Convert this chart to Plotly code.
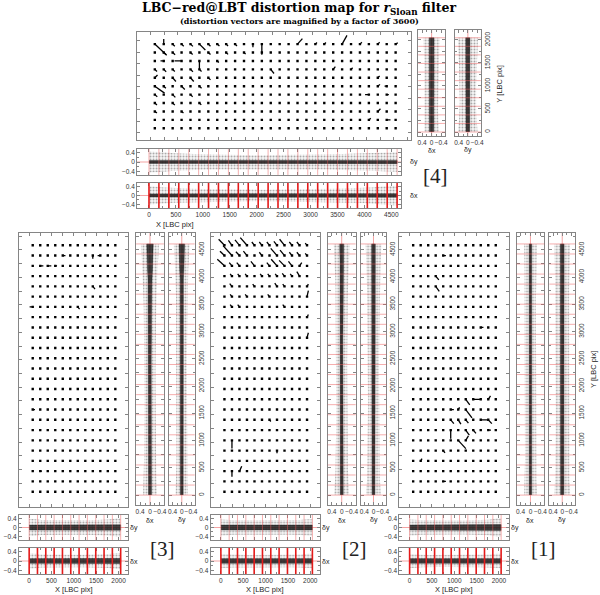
import plotly.graph_objects as go

# ---------------- data ----------------
# vector grid positions (LBC pixels)
GRID4_X = [80, 245, 410, 575, 740, 905, 1070, 1235, 1400, 1565, 1730, 1895, 2060, 2225,
           2390, 2555, 2720, 2885, 3050, 3215, 3380, 3545, 3710, 3875, 4040, 4205, 4370, 4535]
GRID4_Y = [100, 283, 466, 649, 832, 1015, 1198, 1381, 1564, 1747, 1930]
GRID_X = [80, 248, 416, 584, 752, 920, 1088, 1256, 1424, 1592, 1760, 1928]
GRID_Y = [97, 284, 471, 658, 845, 1032, 1219, 1406, 1593, 1780, 1967, 2154, 2341,
          2528, 2715, 2902, 3089, 3276, 3463, 3650, 3837, 4024, 4211, 4398, 4585]

# bin edges of the residual profiles
EDGES_LONG = [0, 184, 369, 553, 737, 922, 1106, 1290, 1475, 1659, 1843, 2028, 2212,
              2396, 2580, 2765, 2949, 3133, 3318, 3502, 3686, 3871, 4055, 4239, 4424, 4608]
EDGES_SHORT = [0, 186, 372, 559, 745, 931, 1117, 1303, 1490, 1676, 1862, 2048]

# magnified distortion vectors: (column, row, dX, dY)
VEC4 = [(0, 10, 220, -240), (1, 10, 0, 110), (2, 10, 40, -45), (3, 10, 40, -45), (4, 10, 45, -50),
        (5, 10, 110, -130), (6, 10, 40, -45), (7, 10, 40, -40), (8, 10, 35, -40), (9, 10, 35, -40),
        (11, 10, 0, -70), (12, 10, 0, -180), (16, 10, 90, 120), (18, 10, 30, 35), (19, 10, 30, 35),
        (21, 10, 90, 190), (23, 10, 35, 40), (25, 10, 35, 40), (27, 10, 40, 30),
        (1, 9, 40, -45), (2, 9, 45, -50), (4, 9, 40, -45), (6, 9, 40, -45), (8, 9, 35, -40),
        (10, 9, 30, -35), (12, 9, 0, -50),
        (1, 8, -60, 0), (3, 8, -130, 0), (5, 8, 0, -190), (7, 8, 30, -35),
        (0, 7, 40, -45), (1, 7, 45, -50), (2, 7, 40, -45), (4, 7, 45, -50), (5, 7, 40, -45),
        (13, 7, 60, -90), (20, 7, 40, 60), (22, 7, 30, 35),
        (0, 6, 50, 60), (2, 6, 60, -80), (4, 6, 60, -80), (6, 6, 40, -45), (25, 6, 35, 40),
        (0, 5, 180, -150), (1, 5, 40, -45), (3, 5, 60, -70), (5, 5, 40, -45), (25, 5, 40, 40),
        (26, 5, -40, 0), (0, 4, 45, -45), (2, 4, 50, -60), (4, 4, 40, -45), (24, 4, -70, 0),
        (26, 4, 40, 0), (0, 3, 40, -40), (2, 3, 40, -45), (5, 3, 35, -40),
        (0, 2, 40, -30), (3, 2, 35, -35), (25, 2, 50, 60), (26, 1, 70, 0), (24, 1, 35, 35)]
VEC3 = [(4, 23, 60, 0), (9, 23, -60, 0), (8, 23, 0, -60), (1, 22, 70, 0), (2, 22, 80, 0),
        (3, 22, 40, 0), (8, 20, 50, -50), (0, 18, -70, 0), (6, 18, 40, -40), (0, 8, 50, 0),
        (1, 2, 40, 0)]
VEC2 = [(0, 24, -130, 110), (1, 24, -80, 90), (2, 24, -100, 100), (3, 24, -150, 140),
        (4, 24, -60, 60), (5, 24, -60, 60), (6, 24, -60, 60), (7, 24, -70, 70), (8, 24, -110, 110),
        (9, 24, -60, 60), (10, 24, -60, 60), (11, 24, -40, 40),
        (0, 23, -100, 80), (1, 23, -200, 180), (2, 23, -80, 70), (3, 23, -80, 80), (5, 23, -60, 60),
        (7, 23, -140, 130), (8, 23, -100, 100), (9, 23, -60, 60), (10, 23, -60, 60), (11, 23, -40, 40),
        (0, 22, -160, 120), (1, 22, -60, 60), (2, 22, -60, 60), (4, 22, -80, 80), (6, 22, -60, 60),
        (7, 22, -130, 120), (8, 22, -120, 100), (9, 22, -80, 80), (10, 22, 50, 60),
        (1, 21, -40, 40), (2, 21, -40, 40), (3, 21, -40, 40), (5, 21, -40, 40), (6, 21, -40, 40),
        (7, 21, -40, 40), (8, 21, -50, 50), (9, 21, -40, 40), (10, 21, -60, 80),
        (1, 20, -50, 50), (4, 20, -40, 40), (7, 20, -50, 60), (8, 20, -40, 40), (11, 20, 30, 40),
        (1, 19, -40, 40), (3, 19, -40, 40), (6, 19, -40, 40), (11, 19, 30, 110),
        (1, 18, -40, 40), (2, 18, -40, 40), (8, 18, -40, 40), (11, 17, 30, 50), (11, 15, 30, 90),
        (1, 5, 0, -150), (1, 2, 0, -100), (2, 2, 50, 90), (7, 4, 0, -50), (6, 7, 30, -30)]
VEC1 = [(3, 21, 70, -70), (3, 20, 80, -90), (4, 23, 60, 0), (9, 16, 60, 0),
        (7, 9, 90, -100), (8, 9, 150, 0), (10, 9, 50, 60),
        (5, 8, 70, 0), (6, 8, 30, 40), (7, 8, 140, -150),
        (5, 7, 70, -70), (6, 7, 60, -80), (7, 7, 60, -60), (9, 7, 150, 0), (10, 7, 80, -70),
        (5, 6, 0, -160), (7, 6, 80, -90), (8, 6, 60, -60), (10, 6, 60, 0),
        (6, 5, 170, -150), (7, 5, 60, 80), (4, 4, 40, -40), (1, 3, 30, 40), (4, 1, 60, 0),
        (7, 17, 40, 0)]

# residual spread per bin (arcsec): outer envelope and dense core
C4_DX_Y_OUT = [0.30, 0.28, 0.27, 0.27, 0.28, 0.28, 0.29, 0.30, 0.31, 0.32, 0.34]
C4_DX_Y_CORE = [0.09, 0.08, 0.08, 0.08, 0.08, 0.08, 0.08, 0.09, 0.09, 0.09, 0.10]
C4_DY_Y_OUT = [0.42, 0.38, 0.36, 0.35, 0.36, 0.36, 0.37, 0.38, 0.40, 0.42, 0.44]
C4_DY_Y_CORE = [0.08, 0.07, 0.07, 0.07, 0.07, 0.07, 0.07, 0.07, 0.08, 0.08, 0.09]
C4_DY_X_OUT = [0.45, 0.42, 0.38, 0.35, 0.34, 0.33, 0.32, 0.31, 0.30, 0.30, 0.29, 0.29, 0.30,
               0.30, 0.31, 0.31, 0.32, 0.32, 0.33, 0.34, 0.35, 0.36, 0.38, 0.40, 0.42]
C4_DY_X_CORE = [0.06, 0.06, 0.05, 0.05, 0.05, 0.05, 0.04, 0.04, 0.04, 0.04, 0.04, 0.04, 0.04,
                0.04, 0.04, 0.05, 0.05, 0.05, 0.05, 0.05, 0.06, 0.06, 0.06, 0.07, 0.07]
C4_DX_X_OUT = [0.40, 0.36, 0.33, 0.30, 0.30, 0.29, 0.28, 0.28, 0.27, 0.27, 0.26, 0.26, 0.27,
               0.27, 0.28, 0.28, 0.29, 0.30, 0.30, 0.31, 0.32, 0.34, 0.36, 0.40, 0.44]
C4_DX_X_CORE = [0.07, 0.07, 0.06, 0.06, 0.05, 0.05, 0.05, 0.05, 0.05, 0.05, 0.05, 0.05, 0.05,
                0.05, 0.05, 0.05, 0.05, 0.06, 0.06, 0.06, 0.06, 0.07, 0.07, 0.08, 0.08]

C3_DX_Y_OUT = [0.28, 0.26, 0.25, 0.24, 0.23, 0.23, 0.22, 0.22, 0.22, 0.22, 0.22, 0.22, 0.22,
               0.22, 0.23, 0.23, 0.24, 0.24, 0.25, 0.26, 0.27, 0.28, 0.30, 0.33, 0.36]
C3_DX_Y_CORE = [0.06, 0.06, 0.05, 0.05, 0.05, 0.05, 0.05, 0.05, 0.05, 0.05, 0.05, 0.05, 0.05,
                0.05, 0.05, 0.05, 0.06, 0.06, 0.06, 0.07, 0.07, 0.08, 0.10, 0.12, 0.13]
C3_DY_Y_OUT = [0.27, 0.25, 0.24, 0.23, 0.23, 0.22, 0.22, 0.22, 0.22, 0.22, 0.22, 0.22, 0.22,
               0.22, 0.22, 0.23, 0.23, 0.24, 0.24, 0.25, 0.26, 0.27, 0.28, 0.31, 0.34]
C3_DY_Y_CORE = [0.06, 0.05, 0.05, 0.05, 0.05, 0.05, 0.05, 0.05, 0.05, 0.05, 0.05, 0.05, 0.05,
                0.05, 0.05, 0.05, 0.05, 0.06, 0.06, 0.06, 0.07, 0.07, 0.09, 0.11, 0.12]
C3_DY_X_OUT = [0.38, 0.34, 0.33, 0.32, 0.32, 0.32, 0.32, 0.33, 0.34, 0.36, 0.40]
C3_DY_X_CORE = [0.11, 0.10, 0.10, 0.10, 0.10, 0.10, 0.10, 0.10, 0.10, 0.11, 0.12]
C3_DX_X_OUT = [0.32, 0.28, 0.27, 0.27, 0.27, 0.27, 0.27, 0.28, 0.28, 0.30, 0.34]
C3_DX_X_CORE = [0.10, 0.09, 0.09, 0.09, 0.09, 0.09, 0.09, 0.09, 0.09, 0.10, 0.11]

C2_DX_Y_OUT = [0.30, 0.27, 0.25, 0.24, 0.23, 0.23, 0.22, 0.22, 0.22, 0.22, 0.22, 0.22, 0.22,
               0.22, 0.22, 0.23, 0.23, 0.23, 0.24, 0.24, 0.25, 0.26, 0.28, 0.30, 0.32]
C2_DX_Y_CORE = [0.06, 0.05, 0.05, 0.05, 0.05, 0.05, 0.045, 0.045, 0.045, 0.045, 0.045, 0.045,
                0.045, 0.045, 0.045, 0.045, 0.05, 0.05, 0.05, 0.05, 0.05, 0.06, 0.06, 0.07, 0.08]
C2_DY_Y_OUT = [0.32, 0.28, 0.27, 0.26, 0.25, 0.25, 0.25, 0.24, 0.24, 0.24, 0.24, 0.24, 0.24,
               0.24, 0.25, 0.25, 0.25, 0.26, 0.26, 0.27, 0.28, 0.29, 0.30, 0.32, 0.34]
C2_DY_Y_CORE = [0.06, 0.06, 0.05, 0.05, 0.05, 0.05, 0.05, 0.05, 0.05, 0.05, 0.05, 0.05, 0.05,
                0.05, 0.05, 0.05, 0.05, 0.05, 0.05, 0.06, 0.06, 0.06, 0.07, 0.07, 0.08]
C2_DY_X_OUT = [0.36, 0.33, 0.32, 0.32, 0.31, 0.31, 0.31, 0.32, 0.32, 0.34, 0.37]
C2_DY_X_CORE = [0.11, 0.10, 0.10, 0.10, 0.10, 0.10, 0.10, 0.10, 0.10, 0.10, 0.11]
C2_DX_X_OUT = [0.30, 0.28, 0.27, 0.26, 0.26, 0.26, 0.26, 0.27, 0.27, 0.28, 0.31]
C2_DX_X_CORE = [0.10, 0.09, 0.09, 0.09, 0.09, 0.09, 0.09, 0.09, 0.09, 0.09, 0.10]

C1_DX_Y_OUT = [0.26, 0.24, 0.23, 0.22, 0.22, 0.21, 0.21, 0.21, 0.21, 0.21, 0.21, 0.21, 0.21,
               0.21, 0.21, 0.21, 0.22, 0.22, 0.22, 0.22, 0.23, 0.23, 0.24, 0.25, 0.26]
C1_DX_Y_CORE = [0.05, 0.05, 0.045, 0.045, 0.06, 0.045, 0.045, 0.045, 0.045, 0.045, 0.045, 0.045,
                0.045, 0.045, 0.045, 0.045, 0.045, 0.045, 0.045, 0.045, 0.045, 0.045, 0.05, 0.05, 0.05]
C1_DY_Y_OUT = [0.34, 0.31, 0.30, 0.29, 0.30, 0.28, 0.28, 0.28, 0.28, 0.28, 0.28, 0.28, 0.28,
               0.28, 0.28, 0.28, 0.29, 0.29, 0.29, 0.30, 0.30, 0.31, 0.32, 0.33, 0.34]
C1_DY_Y_CORE = [0.07, 0.06, 0.06, 0.06, 0.09, 0.06, 0.06, 0.06, 0.06, 0.06, 0.06, 0.06, 0.06,
                0.06, 0.06, 0.06, 0.06, 0.06, 0.06, 0.06, 0.06, 0.07, 0.07, 0.07, 0.08]
C1_DY_X_OUT = [0.36, 0.33, 0.32, 0.31, 0.31, 0.31, 0.31, 0.32, 0.33, 0.35, 0.40]
C1_DY_X_CORE = [0.11, 0.10, 0.10, 0.10, 0.10, 0.10, 0.10, 0.10, 0.11, 0.12, 0.13]
C1_DX_X_OUT = [0.30, 0.27, 0.26, 0.26, 0.26, 0.26, 0.26, 0.26, 0.27, 0.28, 0.31]
C1_DX_X_CORE = [0.10, 0.09, 0.09, 0.09, 0.09, 0.09, 0.09, 0.09, 0.09, 0.09, 0.10]

# tick labels
TOP_Y_TICKS = [0, 500, 1000, 1500, 2000]
TOP_X_TICKS = [0, 500, 1000, 1500, 2000, 2500, 3000, 3500, 4000, 4500]
BOT_Y_TICKS = [0, 500, 1000, 1500, 2000, 2500, 3000, 3500, 4000, 4500]
BOT_X_TICKS = [0, 500, 1000, 1500, 2000]
RES_TICKS = [0.4, 0, -0.4]
RES_TEXT = ['0.4', '0', '\u22120.4']
RES_MINOR = [0.2, -0.2]

# ---------------- figure ----------------
W, H = 600, 595
FRAME = '#858585'
RED_THIN = 'rgba(235,90,90,0.7)'
RED_THICK = '#e41a1a'
TICKFONT = dict(family='Liberation Sans', size=6.5, color='#333333')
RES_RANGE = 0.56

fig = go.Figure()
n_axes = [0]


def new_axes(box, xr, yr, xkw=None, ykw=None):
    n_axes[0] += 1
    s = '' if n_axes[0] == 1 else str(n_axes[0])
    x0, x1, y0, y1 = box
    base = dict(showgrid=False, zeroline=False, showline=True, linecolor=FRAME, linewidth=1,
                mirror='ticks', ticks='inside', ticklen=3, tickcolor=FRAME, tickwidth=0.7,
                showticklabels=False, tickfont=TICKFONT, tickangle=0, fixedrange=True)
    xa = dict(base, domain=[x0 / W, x1 / W], range=xr, anchor='y' + s)
    ya = dict(base, domain=[1 - y1 / H, 1 - y0 / H], range=yr, anchor='x' + s)
    if xkw:
        xa.update(xkw)
    if ykw:
        ya.update(ykw)
    fig.update_layout({'xaxis' + s: xa, 'yaxis' + s: ya})
    return 'x' + s, 'y' + s


def minor(vals=None, dtick=None):
    m = dict(ticks='inside', ticklen=2, tickcolor=FRAME)
    if vals is not None:
        m['tickvals'] = vals
    if dtick is not None:
        m['dtick'] = dtick
    return m


def vector_panel(box, xr, yr, gx, gy, vecs):
    xa, ya = new_axes(box, xr, yr, dict(dtick=250, tick0=0), dict(dtick=250, tick0=0))
    dots_x = [x for y in gy for x in gx]
    dots_y = [y for y in gy for x in gx]
    fig.add_trace(go.Scatter(x=dots_x, y=dots_y, mode='markers', xaxis=xa, yaxis=ya,
                             marker=dict(symbol='square', size=2.4, color='black', line_width=0),
                             hoverinfo='skip'))
    lx, ly = [], []
    for c, r, dx, dy in vecs:
        lx += [gx[c], gx[c] + dx, None]
        ly += [gy[r], gy[r] + dy, None]
    fig.add_trace(go.Scatter(x=lx, y=ly, mode='lines', xaxis=xa, yaxis=ya,
                             line=dict(color='black', width=1.3), hoverinfo='skip'))


def envelope(edges, spread):
    centers = [(a + b) / 2 for a, b in zip(edges[:-1], edges[1:])]
    pos = [edges[0]] + centers + [edges[-1]]
    s = [spread[0]] + list(spread) + [spread[-1]]
    return pos + pos[::-1], s + [-v for v in s[::-1]]


def add_cloud(xa, ya, edges, outer, core, vertical):
    for spread, kind in ((outer, 'outer'), (core, 'core')):
        p, r = envelope(edges, spread)
        x, y = (r, p) if vertical else (p, r)
        if kind == 'outer':
            fig.add_trace(go.Scatter(x=x, y=y, mode='lines', fill='toself', xaxis=xa, yaxis=ya,
                                     line=dict(width=0), fillcolor='rgba(0,0,0,0.04)',
                                     fillpattern=dict(shape='.', fgcolor='#555555',
                                                      bgcolor='rgba(0,0,0,0.03)', size=3,
                                                      solidity=0.3),
                                     hoverinfo='skip'))
        else:
            fig.add_trace(go.Scatter(x=x, y=y, mode='lines', fill='toself', xaxis=xa, yaxis=ya,
                                     line=dict(width=0.6, color='rgba(0,0,0,0.6)'),
                                     fillcolor='rgba(20,20,20,0.8)', hoverinfo='skip'))


def bin_lines(xa, ya, edges, vertical, color, width):
    # full-span lines at the bin edges plus the zero line
    for e in edges:
        if vertical:
            fig.add_shape(type='line', xref=xa + ' domain', yref=ya, x0=0, x1=1, y0=e, y1=e,
                          line=dict(color=color, width=width), layer='above')
        else:
            fig.add_shape(type='line', xref=xa, yref=ya + ' domain', x0=e, x1=e, y0=0, y1=1,
                          line=dict(color=color, width=width), layer='above')
    if vertical:
        fig.add_shape(type='line', xref=xa, yref=ya + ' domain', x0=0, x1=0, y0=0, y1=1,
                      line=dict(color=RED_THIN, width=0.8), layer='below')
    else:
        fig.add_shape(type='line', xref=xa + ' domain', yref=ya, x0=0, x1=1, y0=0, y1=0,
                      line=dict(color=RED_THIN, width=0.8), layer='below')


def vertical_res(box, yr, edges, outer, core, ytick_vals=None):
    xkw = dict(tickvals=RES_TICKS, ticktext=RES_TEXT, showticklabels=True,
               minor=minor(RES_MINOR))
    ykw = dict(dtick=250, tick0=0)
    if ytick_vals is not None:
        ykw = dict(tickvals=ytick_vals, showticklabels=True, side='right', tickangle=-90,
                   minor=minor(dtick=250))
    xa, ya = new_axes(box, [RES_RANGE, -RES_RANGE], yr, xkw, ykw)
    add_cloud(xa, ya, edges, outer, core, True)
    bin_lines(xa, ya, edges, True, RED_THIN, 0.7)


def strip_res(box, xr, edges, outer, core, thick, xtick_vals=None):
    xkw = dict(dtick=250, tick0=0)
    if xtick_vals is not None:
        xkw = dict(tickvals=xtick_vals, showticklabels=True, minor=minor(dtick=250))
    ykw = dict(tickvals=RES_TICKS, ticktext=RES_TEXT, showticklabels=True,
               minor=minor(RES_MINOR))
    xa, ya = new_axes(box, xr, [-RES_RANGE, RES_RANGE], xkw, ykw)
    add_cloud(xa, ya, edges, outer, core, False)
    if thick:
        bin_lines(xa, ya, edges, False, RED_THICK, 1.6)
    else:
        bin_lines(xa, ya, edges, False, RED_THIN, 0.7)


annotations = []


def label(text, x, y, size=8, family='Liberation Sans', angle=0, color='#222222'):
    annotations.append(dict(text=text, x=x / W, y=1 - y / H, xref='paper', yref='paper',
                            showarrow=False, textangle=angle, xanchor='center', yanchor='middle',
                            font=dict(size=size, family=family, color=color)))


# ---- chip 4 (top, rotated) ----
vector_panel((137, 413, 32, 140), [-248, 4824], [-154, 2193], GRID4_X, GRID4_Y, VEC4)
TOP_RES_YR = [-87, 2217]
vertical_res((420, 447, 30, 136), TOP_RES_YR, EDGES_SHORT, C4_DX_Y_OUT, C4_DX_Y_CORE)
vertical_res((457, 483, 30, 136), TOP_RES_YR, EDGES_SHORT, C4_DY_Y_OUT, C4_DY_Y_CORE,
             TOP_Y_TICKS)
strip_res((137, 403, 149, 175), [-221, 4686], EDGES_LONG, C4_DY_X_OUT, C4_DY_X_CORE, False)
strip_res((137, 403, 183, 208), [-221, 4686], EDGES_LONG, C4_DX_X_OUT, C4_DX_X_CORE, True,
          TOP_X_TICKS)
label('\u03b4x', 434, 150, 7)
label('\u03b4y', 470, 150, 7)
label('\u03b4y', 416, 162, 7)
label('\u03b4x', 416, 196, 7)
label('X [LBC pix]', 175, 224, 7.5)
label('Y [LBC pix]', 502, 84, 7.5, angle=-90)
label('[4]', 437, 176, 21, 'Liberation Serif')

# ---- chips 3, 2, 1 (bottom row) ----
BOT_XR = [-230, 2215]
BOT_YR = [-182, 4809]
chips = [
    (18, VEC3, C3_DX_Y_OUT, C3_DX_Y_CORE, C3_DY_Y_OUT, C3_DY_Y_CORE,
     C3_DY_X_OUT, C3_DY_X_CORE, C3_DX_X_OUT, C3_DX_X_CORE, '[3]'),
    (211, VEC2, C2_DX_Y_OUT, C2_DX_Y_CORE, C2_DY_Y_OUT, C2_DY_Y_CORE,
     C2_DY_X_OUT, C2_DY_X_CORE, C2_DX_X_OUT, C2_DX_X_CORE, '[2]'),
    (401, VEC1, C1_DX_Y_OUT, C1_DX_Y_CORE, C1_DY_Y_OUT, C1_DY_Y_CORE,
     C1_DY_X_OUT, C1_DY_X_CORE, C1_DX_X_OUT, C1_DX_X_CORE, '[1]'),
]
for (left, vecs, dxy_o, dxy_c, dyy_o, dyy_c, dyx_o, dyx_c, dxx_o, dxx_c, name) in chips:
    right = left + 110
    vector_panel((left, right, 233, 507), BOT_XR, BOT_YR, GRID_X, GRID_Y, vecs)
    vertical_res((right + 8, right + 36, 233, 505), BOT_YR, EDGES_LONG, dxy_o, dxy_c)
    vertical_res((right + 41, right + 67, 233, 505), BOT_YR, EDGES_LONG, dyy_o, dyy_c,
                 BOT_Y_TICKS)
    strip_res((left, right, 515, 540), BOT_XR, EDGES_SHORT, dyx_o, dyx_c, False)
    strip_res((left, right, 548, 574), BOT_XR, EDGES_SHORT, dxx_o, dxx_c, True, BOT_X_TICKS)
    label('\u03b4x', right + 22, 520, 7)
    label('\u03b4y', right + 54, 520, 7)
    label('\u03b4y', right + 6, 528, 7)
    label('\u03b4x', right + 6, 561, 7)
    label('X [LBC pix]', left + 55, 589, 7.5)
    label(name, right + 35, 549, 21, 'Liberation Serif')

label('Y [LBC pix]', 596, 370, 7.5, angle=-90)

# titles
label('<b>LBC\u2212red@LBT distortion map for <i>r</i><sub>Sloan</sub> filter</b>',
      300, 9, 12.5, 'DejaVu Serif', color='black')
label('<b>(distortion vectors are magnified by a factor of 3600)</b>',
      301, 21, 8, 'DejaVu Serif', color='black')

fig.update_layout(width=W, height=H, margin=dict(l=0, r=0, t=0, b=0), showlegend=False,
                  paper_bgcolor='white', plot_bgcolor='white', annotations=annotations)

fig.write_html("out.html", config={'displayModeBar': False},
               post_script="document.body.style.margin='0';")
